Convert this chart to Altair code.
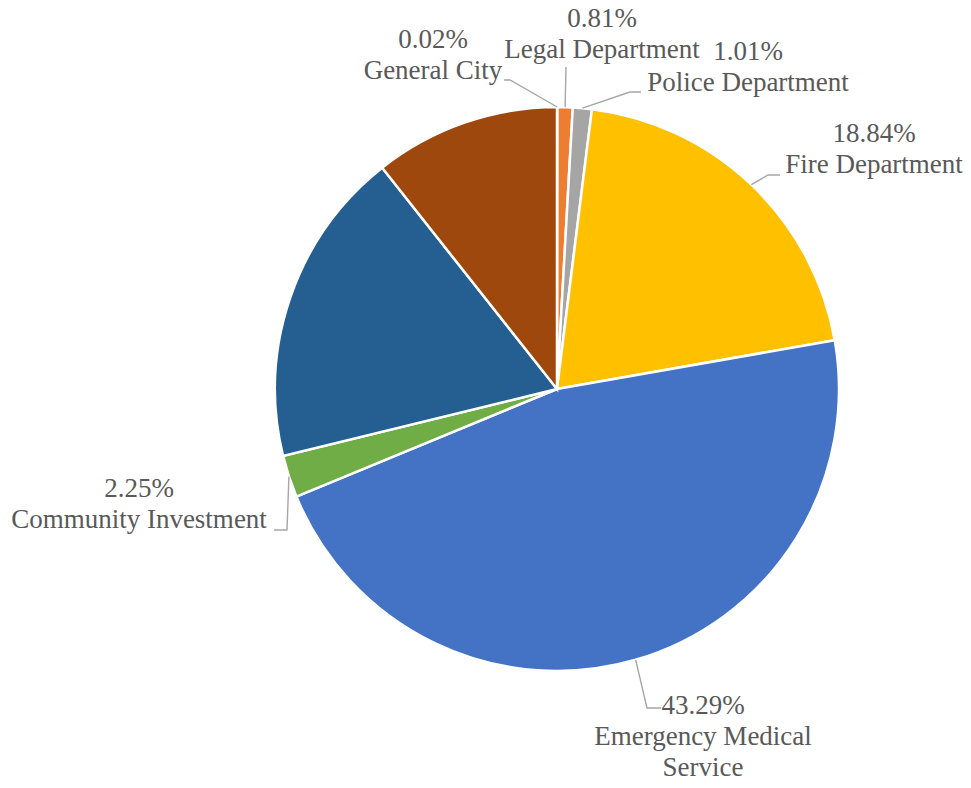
import math
import altair as alt
import pandas as pd

# ---------------- data ----------------
categories = ["General City", "Legal Department", "Police Department", "Fire Department",
              "Emergency Medical Service", "Community Investment", "Other A", "Other B"]
values = [0.02, 0.81, 1.01, 18.84, 43.29, 2.25, 16.9, 9.9]
pct_labels = ["0.02%", "0.81%", "1.01%", "18.84%", "43.29%", "2.25%", "", ""]
label_names = ["General City", "Legal Department", "Police Department", "Fire Department",
               "Emergency Medical\nService", "Community Investment", "", ""]
colors = ["#5B9BD5", "#ED7D31", "#A5A5A5", "#FFC000", "#4472C4", "#70AD47", "#255E91", "#9E480E"]

# ---------------- layout (page pixels) ----------------
W, H = 955, 772
MARGIN = 8
CX, CY, R = 557 - MARGIN, 389 - MARGIN, 282
# label centre x, first baseline y, elbow point (or None), end point
label_layout = {
    "General City": (433, 48, (510, 80), (504, 80)),
    "Legal Department": (602, 27, None, (566, 67)),
    "Police Department": (748, 60, (630, 92), (641, 92)),
    "Fire Department": (874, 142, (768, 175), (780, 175)),
    "Emergency Medical Service": (703, 714, (647, 708), (661, 708)),
    "Community Investment": (139, 497, (287, 530), (274, 530)),
}

pie_df = pd.DataFrame({"idx": range(len(categories)), "category": categories, "value": values})

total = sum(values)
lines_rows, label_rows = [], []
cum = 0.0
for cat, v, pct, name in zip(categories, values, pct_labels, label_names):
    mid = (cum + v / 2) / total * 2 * math.pi
    cum += v
    if cat not in label_layout:
        continue
    lx, ly, elbow, end = label_layout[cat]
    pts = [(CX + R * math.sin(mid), CY - R * math.cos(mid))]
    if elbow is not None:
        pts.append((elbow[0] - MARGIN, elbow[1] - MARGIN))
    pts.append((end[0] - MARGIN, end[1] - MARGIN))
    for i, (px, py) in enumerate(pts):
        lines_rows.append({"category": cat, "seq": i, "x": px, "y": py})
    label_rows.append({"category": cat, "text": pct + "\n" + name,
                       "x": lx - MARGIN, "y": ly - MARGIN})

lines_df = pd.DataFrame(lines_rows)
labels_df = pd.DataFrame(label_rows)

xs = alt.Scale(domain=[0, W], range=[0, W], nice=False, zero=False)
ys = alt.Scale(domain=[0, H], range=[0, H], nice=False, zero=False)

pie = alt.Chart(pie_df).mark_arc(outerRadius=R, stroke="white", strokeWidth=2.5).encode(
    theta=alt.Theta("value:Q", stack=True),
    color=alt.Color("category:N", scale=alt.Scale(domain=categories, range=colors), legend=None),
    order=alt.Order("idx:Q"),
    x=alt.value(CX),
    y=alt.value(CY),
)

leaders = alt.Chart(lines_df).mark_line(color="#A6A6A6", strokeWidth=1.4).encode(
    x=alt.X("x:Q", scale=xs, axis=None),
    y=alt.Y("y:Q", scale=ys, axis=None),
    detail="category:N",
    order="seq:Q",
)

labels = alt.Chart(labels_df).mark_text(
    font="Liberation Serif", fontSize=27, color="#595959", align="center",
    baseline="alphabetic", lineBreak="\n", lineHeight=31,
).encode(
    x=alt.X("x:Q", scale=xs, axis=None),
    y=alt.Y("y:Q", scale=ys, axis=None),
    text="text:N",
)

chart = alt.layer(pie, leaders, labels).properties(
    width=W, height=H, padding=0, autosize="none"
).configure_view(stroke=None)

chart.save("out.html", embed_options={"renderer": "svg", "actions": False})
